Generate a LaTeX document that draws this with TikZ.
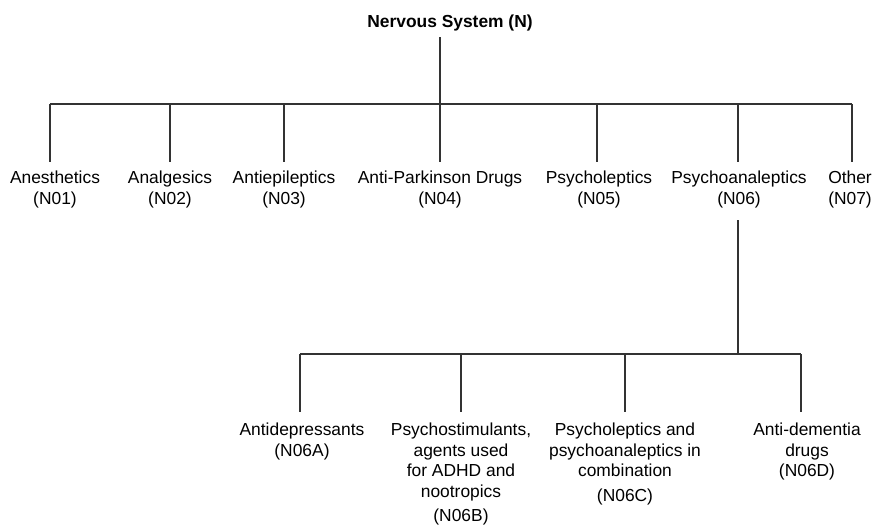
\documentclass[tikz,border=0pt]{standalone}
\usepackage{fontspec}
\setmainfont{Liberation Sans}
\newcommand\tstrut[1]{\rule{0pt}{#1}}
\begin{document}
\begin{tikzpicture}[x=1pt,y=1pt,
  lbl/.style={anchor=north, inner sep=0pt, align=center, font=\fontsize{17.4}{20.8}\selectfont},
  ttl/.style={anchor=base, inner sep=0pt, font=\fontsize{17.4}{20}\selectfont\bfseries},
  ln/.style={line width=1.2pt, draw=black!80}]
\useasboundingbox (0,0) rectangle (874,-525);
% title
\node[ttl] (N) at (450,-27.5) {Nervous System (N)};
% first level labels (north at drop bottom y=162, baseline at 183)
\node[lbl] (n01) at (55,-162)  {\tstrut{21pt}Anesthetics\\(N01)};
\node[lbl] (n02) at (170,-162) {\tstrut{21pt}Analgesics\\(N02)};
\node[lbl] (n03) at (284,-162) {\tstrut{21pt}Antiepileptics\\(N03)};
\node[lbl] (n04) at (440,-162) {\tstrut{21pt}Anti-Parkinson Drugs\\(N04)};
\node[lbl] (n05) at (599,-162) {\tstrut{21pt}Psycholeptics\\(N05)};
\node[lbl] (n06) at (739,-162) {\tstrut{21pt}Psychoanaleptics\\(N06)};
\node[lbl] (n07) at (850,-162) {\tstrut{21pt}Other\\(N07)};
% second level labels (north at y=412, baseline at 435)
\node[lbl] (n06a) at (302,-412) {\tstrut{23pt}Antidepressants\\(N06A)};
\node[lbl] (n06b) at (461,-412) {\tstrut{23pt}Psychostimulants,\\agents used\\for ADHD and\\nootropics\\[3pt](N06B)};
\node[lbl] (n06c) at (625,-412) {\tstrut{23pt}Psycholeptics and\\psychoanaleptics in\\combination\\[4pt](N06C)};
\node[lbl] (n06d) at (807,-412) {\tstrut{23pt}Anti-dementia\\drugs\\(N06D)};
% connector points
\coordinate (t0) at (440,-37);
\coordinate (bus) at (440,-104);
\coordinate (bl) at (50,-104);
\coordinate (br) at (852,-104);
\coordinate (s0) at (738,-220);
\coordinate (sbus) at (738,-354);
\coordinate (sl) at (300,-354);
\coordinate (sr) at (801,-354);
% top tree
\draw[ln] (t0) -- (bus);
\draw[ln] (bl) -- (br);
\foreach \x in {50,170,284,440,597,738,852}
  \draw[ln] (\x,-104) -- (\x,-162);
% second tree
\draw[ln] (s0) -- (sbus);
\draw[ln] (sl) -- (sr);
\foreach \x in {300,461,625,801}
  \draw[ln] (\x,-354) -- (\x,-412);
\end{tikzpicture}
\end{document}
